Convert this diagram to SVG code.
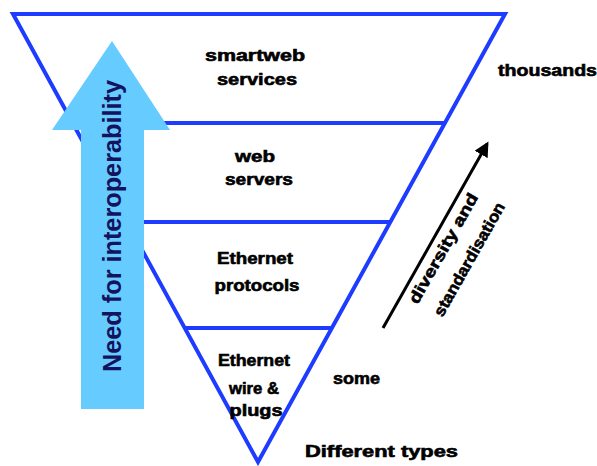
<svg xmlns="http://www.w3.org/2000/svg" width="597" height="466" viewBox="0 0 597 466">
<style>
.edge{fill:none;stroke:#1e3cff;stroke-width:4;stroke-linejoin:miter}
.lbl{font-family:"Liberation Sans",Arial,sans-serif;font-weight:bold;font-size:16px;fill:#000;stroke:#000;stroke-width:0.6;text-anchor:middle}
.side{font-family:"Liberation Sans",Arial,sans-serif;font-weight:bold;font-size:16px;fill:#000;stroke:#000;stroke-width:0.6}
</style>
<defs>
<marker id="ah" viewBox="0 0 10 10" refX="8" refY="5" markerWidth="5" markerHeight="5" orient="auto" markerUnits="strokeWidth">
<path d="M0,0 L10,5 L0,10 z" fill="#000"/>
</marker>
</defs>
<rect width="597" height="466" fill="#fff"/>
<g id="pyramid">
<polygon class="edge" points="13,14 505,14 258,462"/>
<line class="edge" x1="72.6" y1="123" x2="444.9" y2="123"/>
<line class="edge" x1="126.7" y1="222" x2="390.3" y2="222"/>
<line class="edge" x1="184.7" y1="328" x2="331.9" y2="328"/>
</g>
<g id="interop-arrow">
<polygon points="112,41 170,130 144,130 144,409 81,409 81,130 52,130" fill="#66ccff"/>
<text transform="translate(121,226) rotate(-90)" font-family="'Liberation Sans',Arial,sans-serif" font-weight="bold" font-size="25" fill="#14145e" text-anchor="middle" textLength="292" lengthAdjust="spacingAndGlyphs">Need for interoperability</text>
</g>
<g id="layer1">
<text class="lbl" x="255" y="61" textLength="100" lengthAdjust="spacingAndGlyphs">smartweb</text>
<text class="lbl" x="257" y="85" textLength="80" lengthAdjust="spacingAndGlyphs">services</text>
</g>
<g id="layer2">
<text class="lbl" x="255" y="162" textLength="40" lengthAdjust="spacingAndGlyphs">web</text>
<text class="lbl" x="259" y="185" textLength="68" lengthAdjust="spacingAndGlyphs">servers</text>
</g>
<g id="layer3">
<text class="lbl" x="255" y="264" textLength="76" lengthAdjust="spacingAndGlyphs">Ethernet</text>
<text class="lbl" x="257" y="291" textLength="85" lengthAdjust="spacingAndGlyphs">protocols</text>
</g>
<g id="layer4">
<text class="lbl" x="254" y="366" textLength="72" lengthAdjust="spacingAndGlyphs">Ethernet</text>
<text class="lbl" x="254" y="394" textLength="50" lengthAdjust="spacingAndGlyphs">wire &amp;</text>
<text class="lbl" x="256" y="416" textLength="53" lengthAdjust="spacingAndGlyphs">plugs</text>
</g>
<g id="labels">
<text class="side" x="498" y="76" textLength="99" lengthAdjust="spacingAndGlyphs">thousands</text>
<text class="side" x="333" y="384" font-size="14" textLength="47" lengthAdjust="spacingAndGlyphs">some</text>
<text class="side" x="305" y="457" font-size="14" textLength="153" lengthAdjust="spacingAndGlyphs">Different types</text>
</g>
<g id="connectors">
<line x1="383" y1="328" x2="487" y2="144" stroke="#000" stroke-width="3" marker-end="url(#ah)"/>
</g>
<g id="diversity-label">
<text class="lbl" transform="translate(448,251) rotate(-60.5)" textLength="124" lengthAdjust="spacingAndGlyphs">diversity and</text>
<text class="lbl" transform="translate(474,262) rotate(-60.5)" textLength="128" lengthAdjust="spacingAndGlyphs">standardisation</text>
</g>
</svg>
